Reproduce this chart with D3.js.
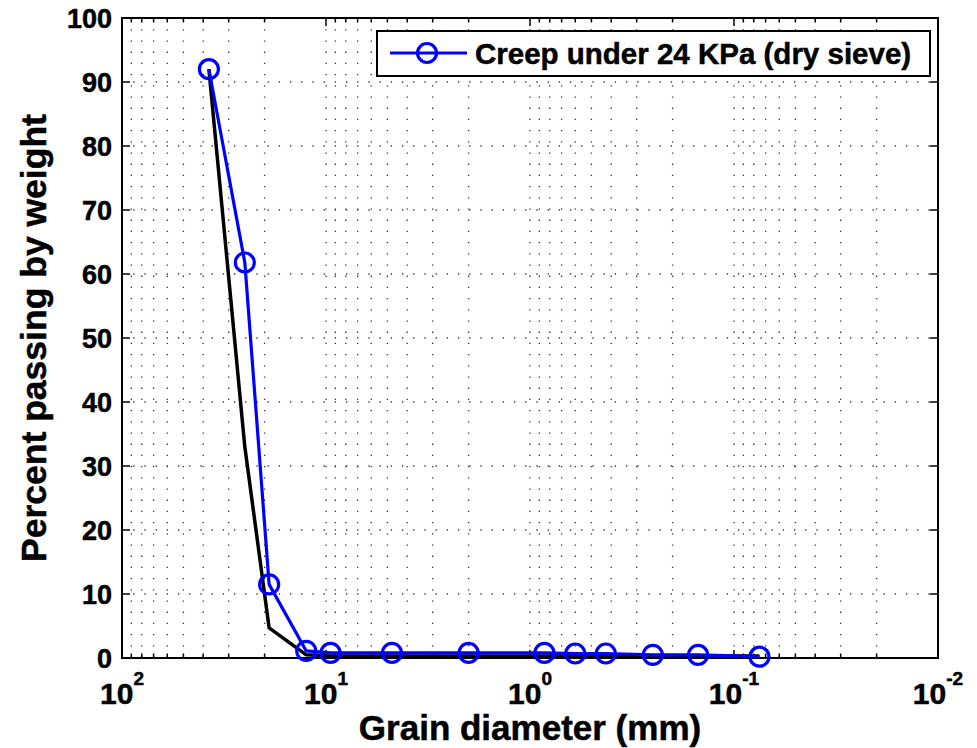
<!DOCTYPE html>
<html>
<head>
<meta charset="utf-8">
<script src="https://cdn.jsdelivr.net/npm/d3@7"></script>
<style>
  html, body { margin: 0; padding: 0; background: #fff; }
  svg { display: block; font-family: "Liberation Sans", Arial, Helvetica, sans-serif; font-weight: bold; }
  text { stroke: #000; stroke-width: 0.5px; }
</style>
</head>
<body>
<svg id="chart" width="977" height="748"></svg>
<script>
// Sieve sizes (mm) and percent passing
const sieveSizes = [37.5, 25, 19, 12.5, 9.5, 4.75, 2, 0.85, 0.6, 0.425, 0.25, 0.15, 0.075];
const creepPassing = [92, 61.8, 11.5, 1.1, 0.8, 0.8, 0.8, 0.8, 0.7, 0.7, 0.5, 0.5, 0.2];
const referencePassing = [92, 33, 4.7, 0.5, 0.3, 0.3, 0.3, 0.3, 0.3, 0.3, 0.3, 0.3, 0.3];
const seriesName = "Creep under 24 KPa (dry sieve)";
const yTicks = [0, 10, 20, 30, 40, 50, 60, 70, 80, 90, 100];
const xDecades = [100, 10, 1, 0.1, 0.01];
const xExponents = ["2", "1", "0", "-1", "-2"];

const W = 977, H = 748;
const margin = { left: 122, top: 18, right: 39, bottom: 90 };
const svg = d3.select("#chart");

const x = d3.scaleLog().domain([100, 0.01]).range([margin.left, W - margin.right]);
const y = d3.scaleLinear().domain([0, 100]).range([H - margin.bottom, margin.top]);

const x0 = x.range()[0], x1 = x.range()[1];
const y0 = y.range()[0], y1 = y.range()[1];

// minor positions 2..9 in every decade
const minorX = [];
[10, 1, 0.1, 0.01].forEach(d => { for (let k = 2; k <= 9; k++) minorX.push(d * k); });
const allX = minorX.concat(xDecades);

// dotted grid
const grid = svg.append("g").attr("stroke", "#333").attr("stroke-width", 1.3)
  .attr("stroke-dasharray", "1.3,9.9").attr("fill", "none");
allX.filter(v => v < 100 && v > 0.01).forEach(v => {
  grid.append("line").attr("x1", x(v)).attr("x2", x(v)).attr("y1", y1).attr("y2", y0);
});
yTicks.filter(v => v > 0 && v < 100).forEach(v => {
  grid.append("line").attr("x1", x0).attr("x2", x1).attr("y1", y(v)).attr("y2", y(v));
});

// ticks (inward, all four sides)
const ticks = svg.append("g").attr("stroke", "#000").attr("stroke-width", 1.5);
yTicks.forEach(v => {
  ticks.append("line").attr("x1", x0).attr("x2", x0 + 8).attr("y1", y(v)).attr("y2", y(v));
  ticks.append("line").attr("x1", x1).attr("x2", x1 - 8).attr("y1", y(v)).attr("y2", y(v));
});
allX.forEach(v => {
  const len = xDecades.includes(v) ? 8 : 4.5;
  ticks.append("line").attr("x1", x(v)).attr("x2", x(v)).attr("y1", y0).attr("y2", y0 - len);
  ticks.append("line").attr("x1", x(v)).attr("x2", x(v)).attr("y1", y1).attr("y2", y1 + len);
});

// axes box
svg.append("rect").attr("x", x0).attr("y", y1).attr("width", x1 - x0).attr("height", y0 - y1)
  .attr("fill", "none").attr("stroke", "#000").attr("stroke-width", 2);

// y tick labels
svg.append("g").selectAll("text").data(yTicks).join("text")
  .attr("x", x0 - 10).attr("y", d => y(d)).attr("dy", "0.36em")
  .attr("text-anchor", "end").attr("font-size", 27).text(d => d);

// x tick labels: 10 with superscript exponent
const xl = svg.append("g").selectAll("text").data(xDecades).join("text")
  .attr("x", d => x(d)).attr("y", y0 + 46).attr("text-anchor", "middle").attr("font-size", 30);
xl.append("tspan").text("10");
xl.append("tspan").attr("font-size", 19).attr("dy", -19).text((d, i) => xExponents[i]);

// axis titles
svg.append("text").attr("x", (x0 + x1) / 2).attr("y", 740).attr("text-anchor", "middle")
  .attr("font-size", 35).text("Grain diameter (mm)");
svg.append("text").attr("transform", `translate(46,${(y0 + y1) / 2}) rotate(-90)`)
  .attr("text-anchor", "middle").attr("font-size", 35.5).text("Percent passing by weight");

// lines
const line = d3.line().x(d => x(d[0])).y(d => y(d[1]));
svg.append("path").datum(d3.zip(sieveSizes, referencePassing)).attr("d", line)
  .attr("fill", "none").attr("stroke", "#000").attr("stroke-width", 3.5).attr("stroke-linejoin", "round");
svg.append("path").datum(d3.zip(sieveSizes, creepPassing)).attr("d", line)
  .attr("fill", "none").attr("stroke", "#0000ff").attr("stroke-width", 3.2).attr("stroke-linejoin", "round");
svg.append("g").selectAll("circle").data(d3.zip(sieveSizes, creepPassing)).join("circle")
  .attr("cx", d => x(d[0])).attr("cy", d => y(d[1])).attr("r", 9.5)
  .attr("fill", "none").attr("stroke", "#0000ff").attr("stroke-width", 3.2);

// legend
const lg = svg.append("g");
lg.append("rect").attr("x", 377).attr("y", 31).attr("width", 553).attr("height", 45)
  .attr("fill", "#fff").attr("stroke", "#000").attr("stroke-width", 2);
lg.append("line").attr("x1", 390).attr("x2", 467).attr("y1", 53).attr("y2", 53)
  .attr("stroke", "#0000ff").attr("stroke-width", 3.2);
lg.append("circle").attr("cx", 427).attr("cy", 53).attr("r", 9.5)
  .attr("fill", "none").attr("stroke", "#0000ff").attr("stroke-width", 3.2);
lg.append("text").attr("x", 475).attr("y", 53).attr("dy", "0.36em").attr("font-size", 29.5).text(seriesName);
</script>
</body>
</html>
